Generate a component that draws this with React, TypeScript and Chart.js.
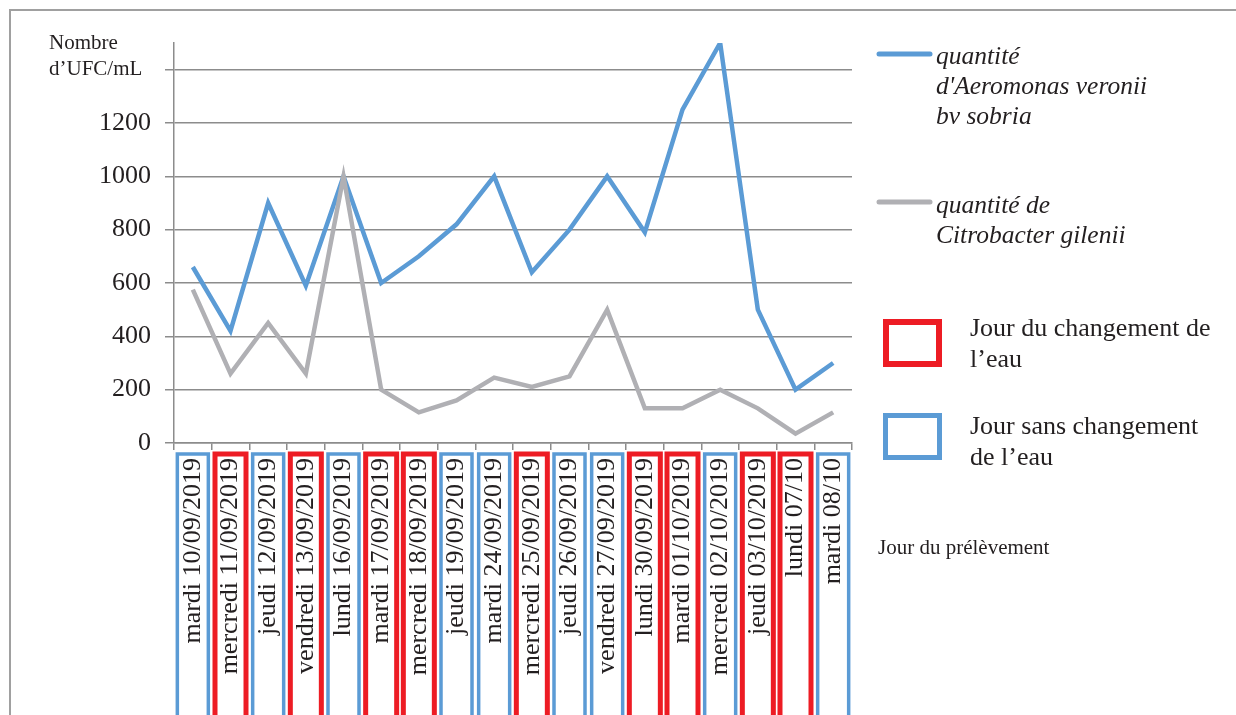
import React, { useEffect, useRef } from 'react';
import { Chart, registerables } from 'chart.js';

Chart.register(...registerables);

const dayLabels = [
  'mardi 10/09/2019', 'mercredi 11/09/2019', 'jeudi 12/09/2019', 'vendredi 13/09/2019',
  'lundi 16/09/2019', 'mardi 17/09/2019', 'mercredi 18/09/2019', 'jeudi 19/09/2019',
  'mardi 24/09/2019', 'mercredi 25/09/2019', 'jeudi 26/09/2019', 'vendredi 27/09/2019',
  'lundi 30/09/2019', 'mardi 01/10/2019', 'mercredi 02/10/2019', 'jeudi 03/10/2019',
  'lundi 07/10', 'mardi 08/10',
];
const aeromonas = [660, 420, 900, 590, 1000, 600, 700, 820, 1000, 640, 800, 1000, 790, 1250, 1500, 500, 200, 300];
const citrobacter = [575, 260, 450, 260, 1000, 200, 115, 160, 245, 210, 250, 500, 130, 130, 200, 130, 35, 115];
const waterChanged = [false, true, false, true, false, true, true, false, false, true, false, false, true, true, false, true, true, false];
const yTicks = [0, 200, 400, 600, 800, 1000, 1200, 1400];
const yTickLabels = ['0', '200', '400', '600', '800', '1000', '1200', ''];

const seriesNames = [
  ['quantité', "d'Aeromonas veronii", 'bv sobria'],
  ['quantité de', 'Citrobacter gilenii'],
];
const boxLegendTexts = [
  ['Jour du changement de', 'l\u2019eau'],
  ['Jour sans changement', 'de l\u2019eau'],
];
const yTitle = ['Nombre', 'd\u2019UFC/mL'];
const xTitle = 'Jour du prélèvement';

const BLUE = '#5B9BD5';
const GRAY = '#B0B0B4';
const RED = '#ED1C24';
const GRID = '#8C8C8C';
const TEXT = '#231F20';
const SERIF = '"Liberation Serif", "Times New Roman", serif';

const decorPlugin = {
  id: 'decor',
  afterDraw(chart: any) {
    const ctx = chart.ctx as CanvasRenderingContext2D;
    const xs = chart.scales.x;
    ctx.save();
    // frame
    ctx.strokeStyle = '#A0A0A0';
    ctx.lineWidth = 2;
    ctx.beginPath();
    ctx.moveTo(10, 716);
    ctx.lineTo(10, 10);
    ctx.lineTo(1240, 10);
    ctx.stroke();

    // boxes around day labels
    const boxW = 31;
    waterChanged.forEach((changed, i) => {
      const cx = xs.getPixelForValue(i);
      ctx.strokeStyle = changed ? RED : BLUE;
      ctx.lineWidth = changed ? 5 : 3.5;
      ctx.strokeRect(cx - boxW / 2, 454, boxW, 300);
    });

    // y title
    ctx.fillStyle = TEXT;
    ctx.font = `21px ${SERIF}`;
    ctx.textAlign = 'left';
    ctx.textBaseline = 'alphabetic';
    ctx.fillText(yTitle[0], 49, 49);
    ctx.fillText(yTitle[1], 49, 75);

    // series legend
    const lineY = [54, 202];
    const textStart = [64, 213];
    [BLUE, GRAY].forEach((c, k) => {
      ctx.strokeStyle = c;
      ctx.lineWidth = 5;
      ctx.lineCap = 'round';
      ctx.beginPath();
      ctx.moveTo(879, lineY[k]);
      ctx.lineTo(930, lineY[k]);
      ctx.stroke();
      ctx.font = `italic 25.5px ${SERIF}`;
      ctx.fillStyle = TEXT;
      seriesNames[k].forEach((t, j) => ctx.fillText(t, 936, textStart[k] + j * 30));
    });

    // box legend
    ctx.lineCap = 'butt';
    ctx.strokeStyle = RED;
    ctx.lineWidth = 6;
    ctx.strokeRect(886, 322, 53, 42);
    ctx.strokeStyle = BLUE;
    ctx.lineWidth = 5;
    ctx.strokeRect(885.5, 415.5, 54, 42);
    ctx.font = `26px ${SERIF}`;
    ctx.fillStyle = TEXT;
    boxLegendTexts[0].forEach((t, j) => ctx.fillText(t, 970, 336 + j * 31));
    boxLegendTexts[1].forEach((t, j) => ctx.fillText(t, 970, 434 + j * 31));

    ctx.font = `21px ${SERIF}`;
    ctx.fillText(xTitle, 878, 554);
    ctx.restore();
  },
};

export default function App() {
  const ref = useRef<HTMLCanvasElement | null>(null);
  useEffect(() => {
    if (!ref.current) return;
    const chart = new Chart(ref.current, {
      type: 'line',
      data: {
        labels: dayLabels,
        datasets: [
          {
            label: seriesNames[0].join(' '),
            data: aeromonas,
            borderColor: BLUE,
            backgroundColor: BLUE,
            borderWidth: 4.5,
            pointRadius: 0,
            tension: 0,
            order: 1,
          },
          {
            label: seriesNames[1].join(' '),
            data: citrobacter,
            borderColor: GRAY,
            backgroundColor: GRAY,
            borderWidth: 4.5,
            pointRadius: 0,
            tension: 0,
            order: 0,
          },
        ],
      },
      options: {
        animation: false,
        responsive: true,
        maintainAspectRatio: false,
        layout: { padding: { left: 74, right: 384, top: 43, bottom: 0 } },
        plugins: { legend: { display: false }, tooltip: { enabled: false } },
        scales: {
          x: {
            offset: true,
            grid: { display: true, drawOnChartArea: false, offset: true, color: GRID, lineWidth: 1.5, tickLength: 7 },
            border: { display: true, color: GRID, width: 1.5 },
            ticks: {
              autoSkip: false,
              maxRotation: 90,
              minRotation: 90,
              padding: 8,
              color: TEXT,
              font: { family: SERIF, size: 26 },
            },
            afterFit: (s: any) => { s.height = 272; },
          },
          y: {
            min: 0,
            max: 1500,
            afterBuildTicks: (s: any) => { s.ticks = yTicks.map((v) => ({ value: v })); },
            grid: { color: GRID, lineWidth: 1.5, tickLength: 9 },
            border: { display: true, color: GRID, width: 1.5 },
            ticks: {
              padding: 14,
              color: TEXT,
              font: { family: SERIF, size: 26 },
              callback: (v: any) => {
                const idx = yTicks.indexOf(Number(v));
                return idx >= 0 ? yTickLabels[idx] : '';
              },
            },
            afterFit: (s: any) => { s.width = 100; },
          },
        },
      },
      plugins: [decorPlugin],
    });
    return () => chart.destroy();
  }, []);
  return (
    <div style={{ position: 'fixed', left: 0, top: 0, width: 1236, height: 715, background: '#fff' }}>
      <canvas ref={ref} />
    </div>
  );
}
